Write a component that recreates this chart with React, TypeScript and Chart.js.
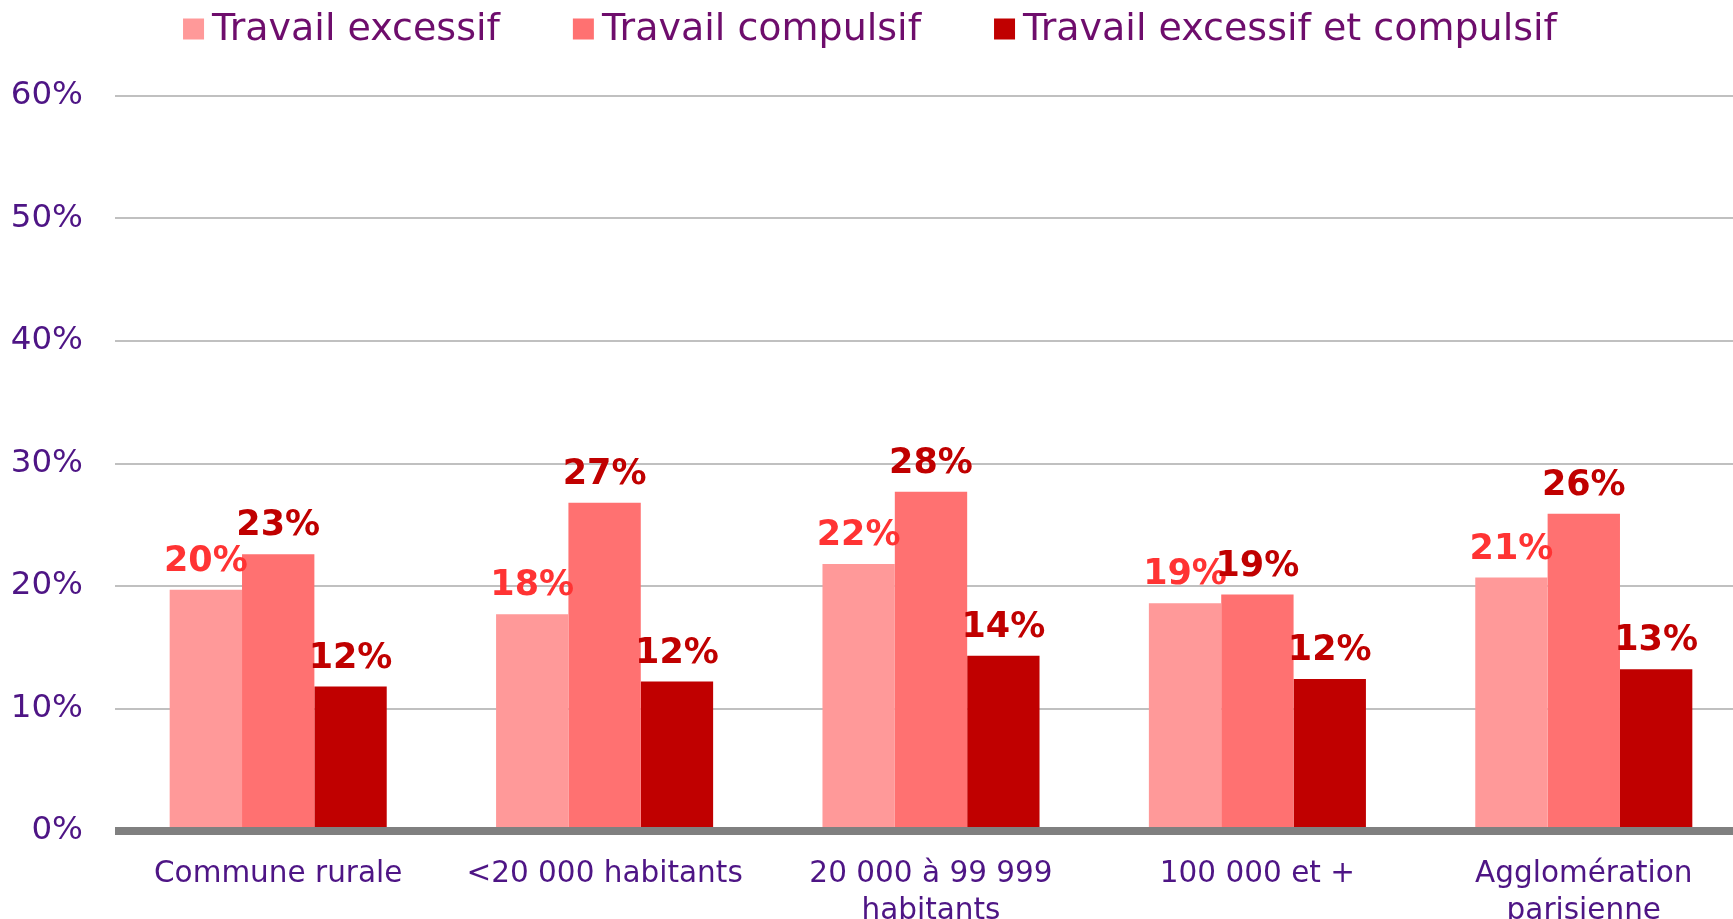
import React, { useEffect, useRef } from "react";
import { Chart, registerables } from "chart.js";

Chart.register(...registerables);

const categories: (string | string[])[] = [
  "Commune rurale",
  "<20 000 habitants",
  ["20 000 à 99 999", "habitants"],
  "100 000 et +",
  ["Agglomération", "parisienne"],
];
const seriesNames = ["Travail excessif", "Travail compulsif", "Travail excessif et compulsif"];
const excessif = [19.7, 17.7, 21.8, 18.6, 20.7];
const compulsif = [22.6, 26.8, 27.7, 19.3, 25.9];
const excessifCompulsif = [11.8, 12.2, 14.3, 12.4, 13.2];
const yTicks = [0, 10, 20, 30, 40, 50, 60];

const barColors = ["#FF9999", "#FF7171", "#C00000"];
const labelColors = ["#FF3333", "#C00000", "#C00000"];
const FONT = "'DejaVu Sans', Verdana, sans-serif";

const legendPlugin = {
  id: "customLegend",
  afterDraw(chart: any) {
    const ctx = chart.ctx;
    ctx.save();
    ctx.font = `38px ${FONT}`;
    const box = 21, gap = 8, itemGap = 73;
    const widths = seriesNames.map((n) => ctx.measureText(n).width);
    const total = widths.reduce((a, w) => a + box + gap + w, 0) + itemGap * (seriesNames.length - 1);
    let x = 870 - total / 2;
    const cy = 29;
    seriesNames.forEach((n, i) => {
      ctx.fillStyle = barColors[i];
      ctx.fillRect(x, cy - box / 2, box, box);
      x += box + gap;
      ctx.fillStyle = "#6E0D6C";
      ctx.textBaseline = "middle";
      ctx.textAlign = "left";
      ctx.fillText(n, x, cy + 1);
      x += widths[i] + itemGap;
    });
    ctx.restore();
  },
};

const axisPlugin = {
  id: "thickAxis",
  afterDatasetsDraw(chart: any) {
    const ctx = chart.ctx;
    const { left, right } = chart.chartArea;
    const y0 = chart.scales.y.getPixelForValue(0);
    ctx.save();
    ctx.fillStyle = "#808080";
    ctx.fillRect(left, y0 - 4, right - left, 8);
    ctx.restore();
  },
};

const dataLabelPlugin = {
  id: "dataLabels",
  afterDatasetsDraw(chart: any) {
    const ctx = chart.ctx;
    ctx.save();
    ctx.font = `bold 35px ${FONT}`;
    ctx.textAlign = "center";
    ctx.textBaseline = "middle";
    chart.data.datasets.forEach((ds: any, di: number) => {
      const meta = chart.getDatasetMeta(di);
      meta.data.forEach((bar: any, i: number) => {
        ctx.fillStyle = labelColors[di];
        ctx.fillText(`${Math.round(ds.data[i])}%`, bar.x, bar.y - 28);
      });
    });
    ctx.restore();
  },
};

export default function App() {
  const ref = useRef<HTMLCanvasElement>(null);
  useEffect(() => {
    if (!ref.current) return;
    const chart = new Chart(ref.current, {
      type: "bar",
      data: {
        labels: categories,
        datasets: [excessif, compulsif, excessifCompulsif].map((d, i) => ({
          label: seriesNames[i],
          data: d,
          backgroundColor: barColors[i],
          borderWidth: 0,
          categoryPercentage: 0.665,
          barPercentage: 1,
        })),
      },
      options: {
        responsive: false,
        animation: false,
        layout: { padding: { top: 96, left: 0, right: 0, bottom: 0 } },
        plugins: {
          legend: { display: false },
          tooltip: { enabled: false },
        },
        scales: {
          x: {
            grid: { display: false, drawTicks: false },
            border: { display: false },
            ticks: {
              color: "#4E1585",
              font: { family: FONT, size: 29.5, lineHeight: 1.25 },
              padding: 25,
              maxRotation: 0,
              autoSkip: false,
            },
            afterFit(scale: any) {
              scale.height = 88;
            },
          },
          y: {
            min: 0,
            max: 60,
            afterBuildTicks(scale: any) {
              scale.ticks = yTicks.map((v) => ({ value: v }));
            },
            grid: { color: "#C0C0C0", lineWidth: 2, drawTicks: false },
            border: { display: false },
            ticks: {
              color: "#4E1585",
              font: { family: FONT, size: 32.5 },
              padding: 32,
              callback: (v: any) => `${v}%`,
            },
            afterFit(scale: any) {
              scale.width = 115;
            },
          },
        },
      },
      plugins: [legendPlugin, axisPlugin, dataLabelPlugin],
    });
    return () => chart.destroy();
  }, []);
  return (
    <div style={{ position: "fixed", left: 0, top: 0, width: 1747, height: 919, background: "#fff" }}>
      <canvas ref={ref} width={1747} height={919} style={{ display: "block" }} />
    </div>
  );
}
